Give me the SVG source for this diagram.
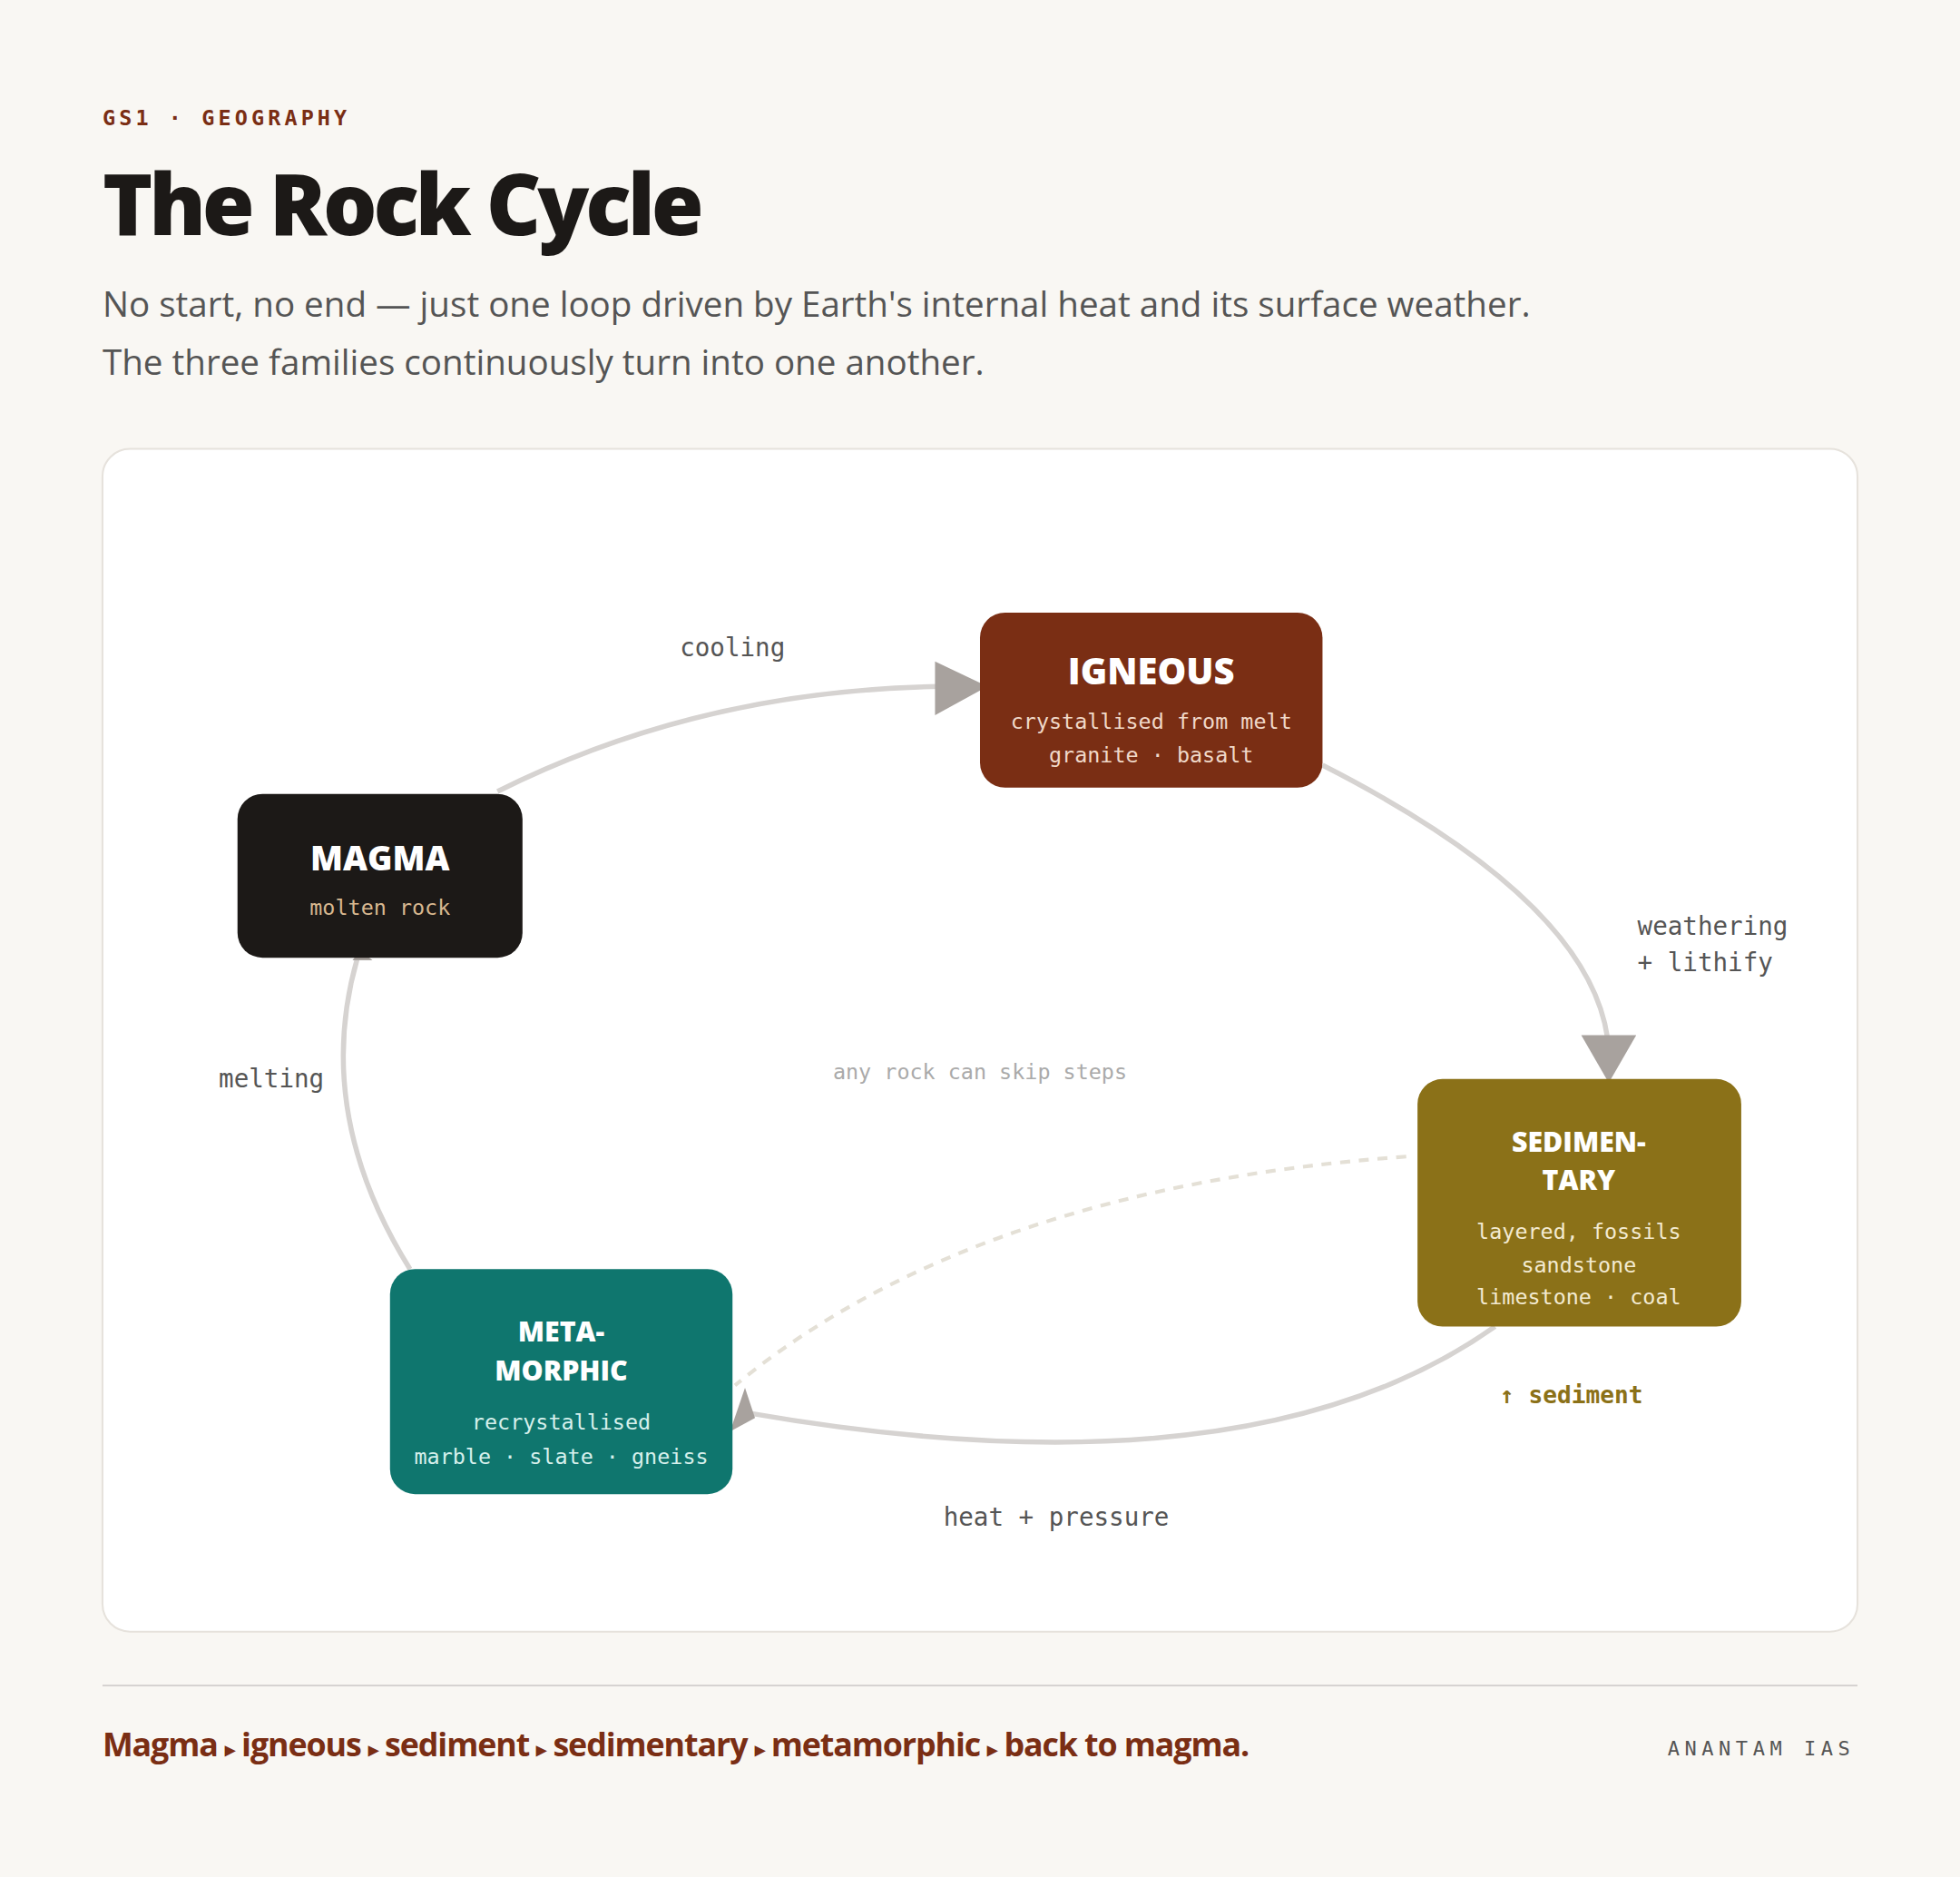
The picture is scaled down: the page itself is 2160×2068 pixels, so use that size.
<svg xmlns="http://www.w3.org/2000/svg" width="2160" height="2068" viewBox="0 0 2160 2068">
<style>
.mono{font-family:"DejaVu Sans Mono","Liberation Mono",monospace}
.sans{font-family:"Open Sans","Noto Sans","Liberation Sans",sans-serif}
.nt{font-family:"Open Sans","Noto Sans","Liberation Sans",sans-serif;font-weight:800;fill:#fff;text-anchor:middle}
.ns{font-family:"DejaVu Sans Mono","Liberation Mono",monospace;font-size:17px;text-anchor:middle}
.lbl{font-family:"DejaVu Sans Mono","Liberation Mono",monospace;font-size:20px;fill:#555}
.edge{fill:none;stroke:#d6d3d1;stroke-width:4}
.ah{fill:#a8a29e}
</style>
<rect width="2160" height="2068" fill="#f9f7f3"/>
<g transform="scale(1.37755)">
<text x="82" y="100" class="mono" font-size="17" font-weight="bold" fill="#7a2e14" letter-spacing="3">GS1 · GEOGRAPHY</text>
<text x="82" y="188" class="sans" font-size="68" font-weight="800" fill="#1c1917" letter-spacing="-3">The Rock Cycle</text>
<text x="82" y="253" class="sans" font-size="28" fill="#555">No start, no end — just one loop driven by Earth's internal heat and its surface weather.</text>
<text x="82" y="300" class="sans" font-size="28" fill="#555">The three families continuously turn into one another.</text>
<rect x="82" y="359" width="1404" height="946" rx="22" fill="#fff" stroke="#e6e2dc" stroke-width="1.5"/>
<g id="connectors">
<path class="edge" d="M398,633 Q560,552 752,549"/>
<polygon class="ah" points="748,529 790,549 748,572"/>
<path class="edge" d="M1058,612 Q1270,720 1286,830"/>
<polygon class="ah" points="1265,828 1309,828 1287,866"/>
<path class="edge" d="M1196,1061 Q1000,1200 598,1130"/>
<polygon class="ah" points="596,1110 584,1145 604,1134"/>
<path class="edge" d="M328,1015 Q250,890 286,766"/>
<polygon class="ah" points="282,768 298,768 288,760"/>
<path d="M1125,925 Q780,950 588,1108" fill="none" stroke="#e4e0d6" stroke-width="3" stroke-dasharray="8 7"/>
<text x="586" y="525" class="lbl" text-anchor="middle">cooling</text>
<text x="1310" y="748" class="lbl">weathering</text>
<text x="1310" y="777" class="lbl">+ lithify</text>
<text x="175" y="870" class="lbl">melting</text>
<text x="845" y="1220" class="lbl" text-anchor="middle">heat + pressure</text>
<text x="784" y="863" class="mono" font-size="17" fill="#aaa" text-anchor="middle">any rock can skip steps</text>
<text x="1200" y="1122" class="mono" font-size="19" font-weight="bold" fill="#8b7118">↑ sediment</text>
</g>
<g id="igneous">
<rect x="784" y="490" width="274" height="140" rx="20" fill="#7a2e14"/>
<text x="921" y="547" class="nt" font-size="29">IGNEOUS</text>
<text x="921" y="583" class="ns" fill="#f0d8c8">crystallised from melt</text>
<text x="921" y="610" class="ns" fill="#f0d8c8">granite · basalt</text>
</g>
<g id="magma">
<rect x="190" y="635" width="228" height="131" rx="20" fill="#1c1917"/>
<text x="304" y="696" class="nt" font-size="27">MAGMA</text>
<text x="304" y="732" class="ns" fill="#d8b890">molten rock</text>
</g>
<g id="sedimentary">
<rect x="1134" y="863" width="259" height="198" rx="20" fill="#8b7118"/>
<text x="1263" y="921" class="nt" font-size="22">SEDIMEN-</text>
<text x="1263" y="952" class="nt" font-size="22">TARY</text>
<text x="1263" y="991" class="ns" fill="#f3ead0">layered, fossils</text>
<text x="1263" y="1018" class="ns" fill="#f3ead0">sandstone</text>
<text x="1263" y="1043" class="ns" fill="#f3ead0">limestone · coal</text>
</g>
<g id="metamorphic">
<rect x="312" y="1015" width="274" height="180" rx="20" fill="#0f766e"/>
<text x="449" y="1073" class="nt" font-size="22">META-</text>
<text x="449" y="1104" class="nt" font-size="22">MORPHIC</text>
<text x="449" y="1143" class="ns" fill="#d6f0ec">recrystallised</text>
<text x="449" y="1171" class="ns" fill="#d6f0ec">marble · slate · gneiss</text>
</g>
<line x1="82" y1="1348" x2="1486" y2="1348" stroke="#d6d3d1" stroke-width="1.5"/>
<text x="82" y="1405" class="sans" font-size="26" font-weight="bold" fill="#7a2e14" letter-spacing="-0.8">Magma <tspan font-size="16">▸</tspan> igneous <tspan font-size="16">▸</tspan> sediment <tspan font-size="16">▸</tspan> sedimentary <tspan font-size="16">▸</tspan> metamorphic <tspan font-size="16">▸</tspan> back to magma.</text>
<text x="1484" y="1404" class="mono" font-size="16" fill="#555" letter-spacing="4" text-anchor="end">ANANTAM IAS</text>
</g>
</svg>
